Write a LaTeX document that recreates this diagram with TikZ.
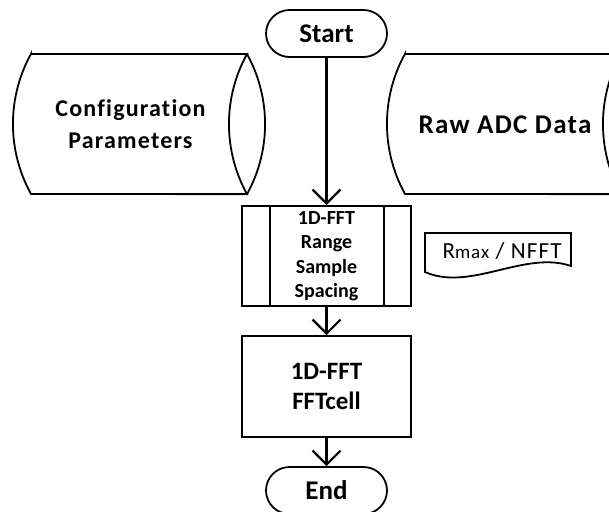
\documentclass[tikz,border=0pt]{standalone}
\usepackage{fontspec}
\setmainfont{Carlito}[Ligatures=NoCommon]
\newfontfamily\widefont{Carlito}[Ligatures=NoCommon, LetterSpace=5]
\usetikzlibrary{arrows.meta}

\begin{document}
\begin{tikzpicture}[x=1pt,y=1pt,
  outline/.style={draw=black, line width=1.8pt},
  flow/.style={draw=black, line width=2.2pt, -{Straight Barb[length=14pt,width=28pt]}},
  terminal/.style={outline, rounded corners=23.5pt, minimum width=121pt,
    minimum height=47pt, inner sep=0pt, font=\fontsize{27}{30}\selectfont\bfseries},
  procbox/.style={outline, minimum width=169pt, inner sep=0pt, align=center},
  label/.style={inner sep=0pt, align=center}
]
\useasboundingbox (0,0) rectangle (609,-511);
\clip (0,0) rectangle (609,-511);

% terminals
\node[terminal] (start) at (326.5,-33.5) {Start};
\node[terminal] (end) at (326.5,-490.5) {End};

% predefined process: range sample spacing
\node[procbox, minimum height=100pt,
  font=\fontsize{20}{24.5}\selectfont\bfseries] (fft1) at (326.5,-256)
  {1D-FFT\\Range\\Sample\\Spacing};
\draw[outline] ([xshift=29pt]fft1.north west) -- ([xshift=29pt]fft1.south west);
\draw[outline] ([xshift=-28pt]fft1.north east) -- ([xshift=-28pt]fft1.south east);

% process: FFT cell
\node[procbox, minimum height=101pt,
  font=\fontsize{25}{30}\selectfont\bfseries] (fft2) at (326.5,-386.5)
  {1D-FFT\\FFTcell};

% stored data: configuration parameters
\draw[outline] (31,-54) -- (247,-54)
  arc[start angle=151.1, end angle=208.9, radius=145]
  -- (31,-194)
  arc[start angle=208.9, end angle=151.1, radius=145] -- cycle;
\draw[outline] (247,-54) arc[start angle=28.9, end angle=-28.9, radius=145];
\node[label, font=\widefont\fontsize{24}{32}\selectfont\bfseries] (cfg) at (130.5,-124.5)
  {Configuration\\Parameters};

% stored data: raw ADC samples
\draw[outline] (405,-54) -- (621,-54)
  arc[start angle=151.1, end angle=208.9, radius=145]
  -- (405,-194)
  arc[start angle=208.9, end angle=151.1, radius=145] -- cycle;
\draw[outline] (621,-54) arc[start angle=28.9, end angle=-28.9, radius=145];
\node[label, font=\widefont\fontsize{27}{30}\selectfont\bfseries, anchor=base] (adc) at (505,-133)
  {Raw ADC Data};

% document: range resolution
\draw[outline] (425,-233) -- (571,-233) -- (571,-266)
  .. controls (525,-250) and (470,-292) .. (425,-272) -- cycle;
\node[inner sep=0pt, anchor=base, font=\widefont\fontsize{23}{26}\selectfont] (res) at (502,-258)
  {R{\fontsize{19}{19}\selectfont max} / NFFT};

% flow
\draw[flow] (start.south) -- (fft1.north);
\draw[flow] (fft1.south) -- (fft2.north);
\draw[flow] (fft2.south) -- (end.north);
\end{tikzpicture}
\end{document}
